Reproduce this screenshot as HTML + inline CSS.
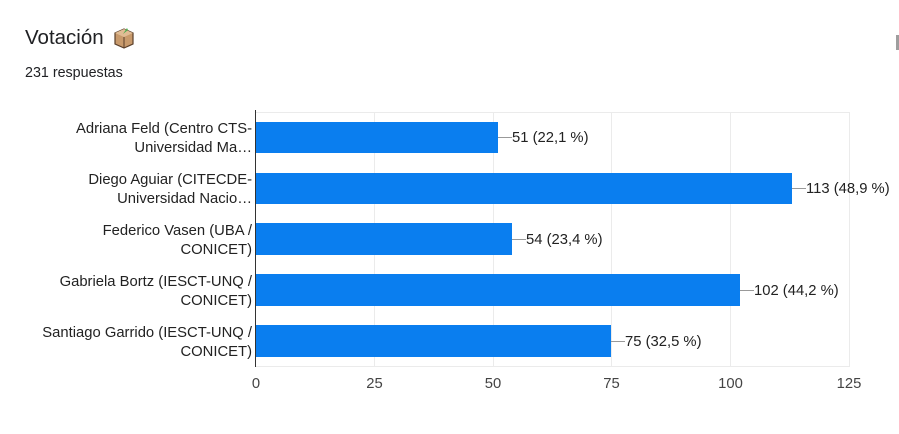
<!DOCTYPE html>
<html><head><meta charset="utf-8"><style>
body{margin:0;background:#fff;width:899px;height:429px;overflow:hidden;font-family:"Liberation Sans",Arial,sans-serif}
</style></head><body>
<svg width="899" height="429" xmlns="http://www.w3.org/2000/svg" font-family="Liberation Sans, Arial, sans-serif">
<text x="25" y="44" font-size="20.5" fill="#202124">Votación</text>
<g transform="translate(114,27)">
<polygon points="10,2 19,6 19,17 10,21 1,17 1,6" fill="#c89a6c" stroke="#5a3f2a" stroke-width="1.2"/>
<polygon points="1,6 10,10 19,6 10,2" fill="#e0bc94"/>
<line x1="10" y1="10" x2="10" y2="21" stroke="#5a3f2a" stroke-width="1"/>
<path d="M9,7 L13,1 L14,3 Z" fill="#4caf50"/>
</g>
<text x="25" y="77" font-size="14.3" fill="#202124">231 respuestas</text>
<rect x="896" y="35" width="3" height="15" fill="#9e9e9e"/>
<g stroke="#ebebeb" stroke-width="1">
<line x1="374.5" y1="112" x2="374.5" y2="367"/>
<line x1="493.5" y1="112" x2="493.5" y2="367"/>
<line x1="611.5" y1="112" x2="611.5" y2="367"/>
<line x1="730.5" y1="112" x2="730.5" y2="367"/>
<line x1="849.5" y1="112" x2="849.5" y2="367"/>
<line x1="256" y1="112.5" x2="849" y2="112.5"/>
<line x1="256" y1="366.5" x2="849" y2="366.5"/>
</g>
<g fill="#0a7eef">
<rect x="256" y="122" width="242" height="31"/>
<rect x="256" y="173" width="536" height="31"/>
<rect x="256" y="223" width="256" height="32"/>
<rect x="256" y="274" width="484" height="32"/>
<rect x="256" y="325" width="355" height="32"/>
</g>
<line x1="255.5" y1="110" x2="255.5" y2="367" stroke="#333" stroke-width="1"/>
<g stroke="#999" stroke-width="1">
<line x1="498" y1="137.5" x2="512" y2="137.5"/>
<line x1="792" y1="188.5" x2="806" y2="188.5"/>
<line x1="512" y1="239.5" x2="526" y2="239.5"/>
<line x1="740" y1="290.5" x2="754" y2="290.5"/>
<line x1="611" y1="341.5" x2="625" y2="341.5"/>
</g>
<g font-size="14.8" fill="#222">
<text x="512" y="142">51 (22,1 %)</text>
<text x="806" y="193">113 (48,9 %)</text>
<text x="526" y="244">54 (23,4 %)</text>
<text x="754" y="295">102 (44,2 %)</text>
<text x="625" y="346">75 (32,5 %)</text>
</g>
<g font-size="14.8" fill="#222" text-anchor="end">
<text x="252" y="133">Adriana Feld (Centro CTS-</text>
<text x="252" y="152">Universidad Ma…</text>
<text x="252" y="184">Diego Aguiar (CITECDE-</text>
<text x="252" y="203">Universidad Nacio…</text>
<text x="252" y="235">Federico Vasen (UBA /</text>
<text x="252" y="254">CONICET)</text>
<text x="252" y="286">Gabriela Bortz (IESCT-UNQ /</text>
<text x="252" y="305">CONICET)</text>
<text x="252" y="337">Santiago Garrido (IESCT-UNQ /</text>
<text x="252" y="356">CONICET)</text>
</g>
<g font-size="14.8" fill="#444" text-anchor="middle">
<text x="256" y="388">0</text>
<text x="374.5" y="388">25</text>
<text x="493" y="388">50</text>
<text x="611.5" y="388">75</text>
<text x="730.5" y="388">100</text>
<text x="849" y="388">125</text>
</g>
</svg>
</body></html>
